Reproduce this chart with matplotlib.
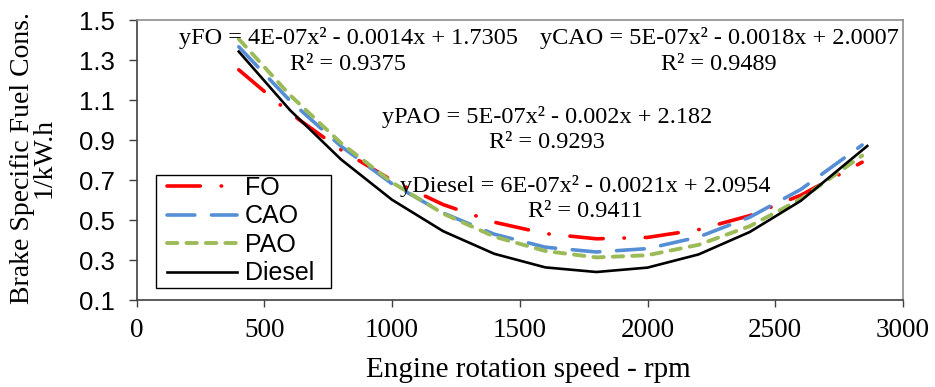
import matplotlib
matplotlib.use("Agg")
import matplotlib.pyplot as plt
from matplotlib.patches import Rectangle
import numpy as np

# values (rpm, 1/kW.h)
rpm = [400, 600, 800, 1000, 1200, 1400, 1600, 1800, 2000, 2200, 2400, 2600, 2840]
rpm_diesel = [400, 600, 800, 1000, 1200, 1400, 1600, 1800, 2000, 2200, 2400, 2600, 2860]
fo = [1.251, 1.035, 0.851, 0.698, 0.577, 0.489, 0.432, 0.406, 0.413, 0.452, 0.522, 0.624, 0.789]
cao = [1.366, 1.097, 0.869, 0.681, 0.535, 0.429, 0.364, 0.340, 0.357, 0.415, 0.514, 0.653, 0.875]
pao = [1.405, 1.125, 0.885, 0.688, 0.532, 0.417, 0.345, 0.313, 0.324, 0.376, 0.469, 0.605, 0.822]
diesel = [1.342, 1.050, 0.803, 0.601, 0.444, 0.331, 0.263, 0.240, 0.262, 0.328, 0.440, 0.596, 0.870]

eq_texts = [
    "yFO = 4E-07x\u00b2 - 0.0014x + 1.7305\nR\u00b2 = 0.9375",
    "yCAO = 5E-07x\u00b2 - 0.0018x + 2.0007\nR\u00b2 = 0.9489",
    "yPAO = 5E-07x\u00b2 - 0.002x + 2.182\nR\u00b2 = 0.9293",
    "yDiesel = 6E-07x\u00b2 - 0.0021x + 2.0954\nR\u00b2 = 0.9411",
]
eq_pos = [(0.276, 0.889), (0.760, 0.889), (0.536, 0.609), (0.586, 0.362)]

plt.rcParams['lines.scale_dashes'] = False
serif = 'Liberation Serif'
sans = 'Liberation Sans'

fig = plt.figure(figsize=(9.35, 3.87), dpi=100)
ax = fig.add_axes([0.1461, 0.2248, 0.8197, 0.7235])

ax.plot(rpm, fo, color='#FF0000', lw=2.6, dashes=(24, 15, 0.3, 15),
        dash_capstyle='round', label='FO')
ax.plot(rpm, cao, color='#558ED5', lw=2.6, dashes=(20, 12),
        dash_capstyle='round', label='CAO')
ax.plot(rpm, pao, color='#9BBB59', lw=2.8, dashes=(7.5, 6.5),
        dash_capstyle='round', label='PAO')
ax.plot(rpm_diesel, diesel, color='black', lw=1.9, label='Diesel')

ax.set_xlim(0, 3000)
ax.set_ylim(0.1, 1.5)
ax.set_xticks(np.arange(0, 3001, 500))
ax.set_yticks(np.arange(0.1, 1.51, 0.2))
ax.set_yticklabels(['%.1f' % v for v in np.arange(0.1, 1.51, 0.2)])

for lab in ax.get_xticklabels():
    lab.set_fontfamily(serif)
    lab.set_fontsize(19.5)
for lab in ax.get_yticklabels():
    lab.set_fontfamily(sans)
    lab.set_fontsize(18.5)
ax.tick_params(axis='both', direction='out', width=1, color='#404040')
ax.tick_params(axis='x', length=5, pad=8)
ax.tick_params(axis='y', length=6, pad=10)

ax.spines['left'].set_color('#404040')
ax.spines['bottom'].set_color('#404040')
ax.spines['top'].set_color('#8c8c8c')
ax.spines['right'].set_color('#8c8c8c')
for s in ax.spines.values():
    s.set_linewidth(1.2)

fig.text(528 / 935, 1 - 377 / 387, 'Engine rotation speed - rpm', fontfamily=serif,
         fontsize=21, ha='center', va='baseline')
fig.text(33.5 / 935, 1 - 157.5 / 387, 'Brake Specific Fuel Cons.\n1/kW.h', fontfamily=serif,
         fontsize=20, rotation=90, ha='center', va='center', linespacing=0.85)

for txt, (tx, ty) in zip(eq_texts, eq_pos):
    ax.text(tx, ty, txt, transform=ax.transAxes, ha='center', va='center',
            multialignment='center', fontfamily=serif, fontsize=17.5, linespacing=1.28)

# legend frame drawn separately so the side padding can be wider than the top/bottom
ax.add_patch(Rectangle((0.0253, 0.043), 0.2284, 0.4034, transform=ax.transAxes,
                       facecolor='white', edgecolor='black', lw=1.0, zorder=4))
leg = ax.legend(loc='upper left', bbox_to_anchor=(0.040, 0.443), borderaxespad=0,
                prop={'family': sans, 'size': 18}, handlelength=2.8, handletextpad=0.3,
                labelspacing=0.18, borderpad=0.0, frameon=False)
leg.set_zorder(5)

fig.savefig('out.png', dpi=100)
